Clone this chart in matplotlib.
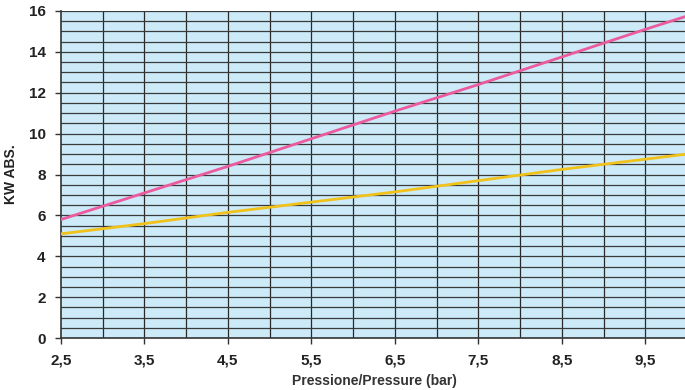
import matplotlib
matplotlib.use('Agg')
import matplotlib.pyplot as plt
import numpy as np

# readings from the chart
pressure = [2.5, 3.5, 4.5, 5.5, 6.5, 7.5, 8.5, 9.5, 10.0]
kw_pink = [5.8, 7.1, 8.4, 9.75, 11.1, 12.4, 13.75, 15.1, 15.75]
kw_yellow = [5.1, 5.6, 6.15, 6.65, 7.15, 7.7, 8.25, 8.75, 9.0]

x_ticks = [2.5, 3.5, 4.5, 5.5, 6.5, 7.5, 8.5, 9.5]
x_labels = ['2,5', '3,5', '4,5', '5,5', '6,5', '7,5', '8,5', '9,5']
y_ticks = [0, 2, 4, 6, 8, 10, 12, 14, 16]

plt.rcParams['font.family'] = ['Liberation Sans', 'DejaVu Sans']

fig = plt.figure(figsize=(6.85, 3.9), dpi=100)
ax = fig.add_axes([0.089, 0.133, 0.914, 0.839])
ax.set_facecolor('#cdeaf9')

ax.set_xlim(2.5, 10)
ax.set_ylim(0, 16)

# grid
for gx in np.arange(3.0, 10.0, 0.5):
    ax.axvline(gx, color='#2a2a2a', lw=0.9, zorder=1)
for gy in np.arange(0.5, 16.01, 0.5):
    ax.axhline(gy, color='#3a3a3a', lw=0.9, zorder=1)

ax.plot(pressure, kw_pink, color='#ec5b9e', lw=2.0, zorder=3)
ax.plot(pressure, kw_yellow, color='#f0c21a', lw=2.0, zorder=3)

ax.set_xticks(x_ticks)
ax.set_xticklabels(x_labels, fontsize=11, fontweight='bold', color='#222222')
ax.set_yticks(y_ticks)
ax.set_yticklabels([str(v) for v in y_ticks], fontsize=11, fontweight='bold', color='#222222')
ax.tick_params(direction='out', length=4, width=1, color='#333333', pad=7)

for s in ['top', 'right']:
    ax.spines[s].set_visible(False)
for s in ['left', 'bottom']:
    ax.spines[s].set_color('#333333')
    ax.spines[s].set_linewidth(1.2)

ax.set_xlabel('Pressione/Pressure (bar)', fontsize=10, fontweight='bold', color='#333333', labelpad=5)
ax.set_ylabel('KW ABS.', fontsize=10, fontweight='bold', color='#222222', labelpad=8)

fig.savefig('out.png', dpi=100)
